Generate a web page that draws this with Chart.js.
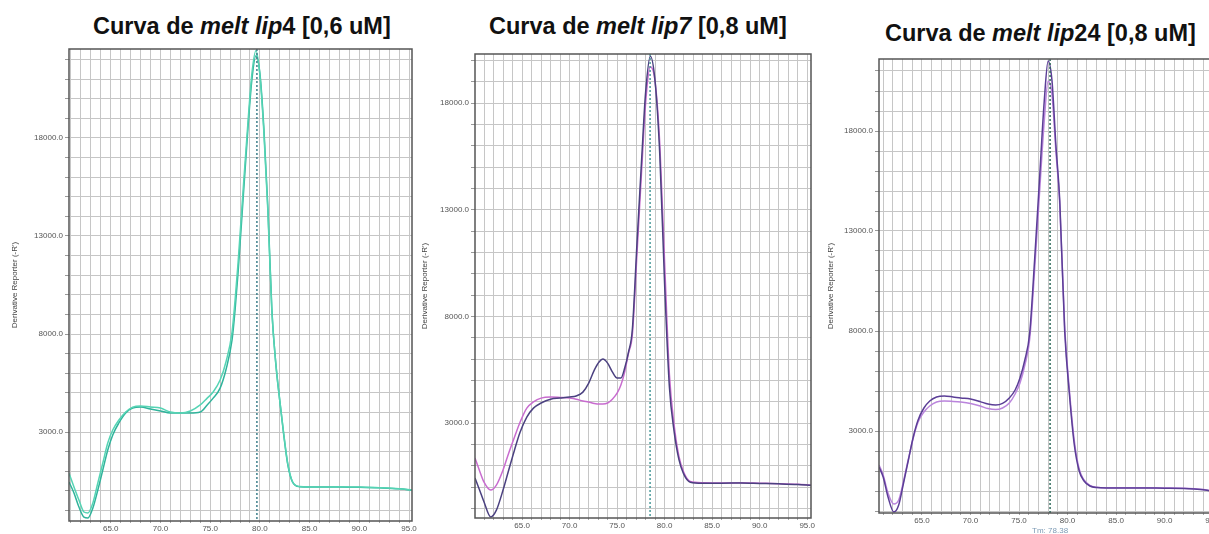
<!DOCTYPE html>
<html>
<head>
<meta charset="utf-8">
<script src="https://cdn.jsdelivr.net/npm/chart.js@4.4.1/dist/chart.umd.min.js"></script>
<style>
body{margin:0;width:1209px;height:534px;overflow:hidden;background:#fff;position:relative;font-family:"Liberation Sans",Arial,sans-serif}
.title{position:absolute;font-weight:bold;font-size:23.5px;line-height:1;white-space:nowrap;color:#111}
canvas{position:absolute;top:40px}
</style>
</head>
<body>
<div class="title" style="left:93px;top:15px">Curva de <i>melt lip</i>4 [0,6 uM]</div>
<div class="title" style="left:489px;top:15px">Curva de <i>melt lip7</i> [0,8 uM]</div>
<div class="title" style="left:885px;top:22px">Curva de <i>melt lip</i>24 [0,8 uM]</div>
<canvas id="c1" width="420" height="494" style="left:0"></canvas>
<canvas id="c2" width="400" height="494" style="left:420px"></canvas>
<canvas id="c3" width="410" height="494" style="left:820px"></canvas>
<script>
'use strict'

// lip4 [0,6 uM]
var xLip4 = [60.8, 61.3, 61.8, 62.3, 62.7, 63.2, 63.7, 64.2, 64.7, 65.2, 65.8, 66.5, 67.2, 68, 69, 70, 71, 72, 73, 74, 74.7, 75.3, 76, 76.6, 77.2, 77.5, 77.8, 78.3, 78.8, 79.2, 79.6, 80, 80.4, 80.8, 81.2, 81.6, 82, 82.4, 82.8, 83.3, 84, 85, 86, 88, 90, 92, 94, 95.3]
var lip4A = [900, 200, -470, -1080, -1130, -620, 400, 1420, 2440, 3100, 3600, 4020, 4270, 4330, 4270, 4220, 4020, 3970, 4070, 4380, 4730, 5040, 5650, 6600, 8100, 9700, 11600, 15240, 18800, 21300, 22450, 21200, 18300, 14300, 9200, 6500, 4600, 2900, 1400, 450, 220, 200, 190, 210, 190, 160, 110, 40]
var lip4B = [450, -110, -830, -1340, -1390, -880, 40, 1060, 2080, 2850, 3450, 3970, 4220, 4270, 4170, 4070, 3970, 3970, 3970, 4020, 4380, 4730, 5240, 6200, 7700, 9200, 11100, 14800, 18500, 21000, 22200, 21300, 18500, 14500, 9300, 6500, 4600, 2850, 1350, 430, 210, 190, 190, 200, 180, 150, 100, 30]

// lip7 [0,8 uM]
var xLip7 = [60.05, 60.5, 61, 61.7, 62.3, 63, 63.6, 64.2, 64.8, 65.5, 66.2, 67, 68, 69, 70, 70.7, 71.4, 72, 72.6, 73.1, 73.5, 74, 74.5, 75, 75.4, 75.8, 76.2, 76.6, 77.1, 77.6, 78, 78.5, 79, 79.5, 80, 80.5, 81, 81.5, 82, 82.7, 84, 86, 88, 90, 92, 94, 95.4]
var lip7Dark = [420, -100, -700, -1400, -1080, -140, 800, 1730, 2580, 3280, 3700, 3940, 4120, 4170, 4220, 4270, 4450, 4860, 5480, 5860, 6000, 5810, 5400, 5110, 5110, 5580, 6330, 7360, 11500, 15500, 18500, 20200, 19000, 15500, 9500, 4700, 2600, 1300, 620, 230, 180, 180, 190, 170, 150, 120, 80]
var lip7Pink = [1360, 800, 230, -140, 90, 800, 1600, 2340, 3050, 3700, 3990, 4170, 4220, 4200, 4170, 4120, 4030, 3990, 3920, 3890, 3890, 3940, 4120, 4400, 4780, 5400, 6280, 7130, 11000, 15000, 18000, 19700, 19000, 16000, 10500, 5300, 2900, 1450, 700, 260, 200, 190, 200, 180, 160, 130, 90]

// lip24 [0,8 uM]
var xLip24 = [60.57, 61, 61.5, 62.1, 62.6, 63.1, 63.6, 64.1, 64.6, 65.2, 65.8, 66.5, 67.3, 68.2, 69, 70, 71, 71.8, 72.6, 73.3, 74, 74.6, 75.1, 75.6, 76.1, 76.6, 77.1, 77.6, 78, 78.4, 78.8, 79.2, 79.7, 80.2, 80.7, 81.2, 81.7, 82.3, 83, 84, 86, 88, 90, 92, 94, 95.3]
var lip24Dark = [1200, 700, -300, -1050, -700, 400, 1550, 2700, 3550, 4150, 4500, 4700, 4750, 4700, 4650, 4600, 4470, 4350, 4300, 4380, 4650, 5050, 5650, 6550, 7900, 11500, 15500, 19500, 21500, 20500, 17300, 14500, 8050, 4800, 2300, 1000, 500, 250, 170, 150, 150, 150, 140, 130, 60, -50]
var lip24Light = [1300, 800, -100, -650, -450, 500, 1600, 2650, 3450, 3950, 4250, 4450, 4500, 4480, 4450, 4380, 4250, 4120, 4070, 4150, 4400, 4850, 5400, 6300, 7600, 11000, 14800, 18500, 20500, 19800, 17000, 14300, 8300, 5000, 2500, 1100, 550, 280, 190, 160, 160, 160, 150, 140, 70, -40]

// dotted Tm line positions and the label under the last panel
var tmValues = [79.7, 78.47, 78.2]
var tmLabel = 'Tm: 78.38'
var yTickLabels = [3000, 8000, 13000, 18000]
var xTickLabels = [65, 70, 75, 80, 85, 90, 95]

var framePlugin = {
    id: 'frame',
    afterDatasetsDraw: function(chart){
        var ctx = chart.ctx
        var area = chart.chartArea
        var o = chart.options.plugins.frame
        var px = chart.scales.x.getPixelForValue(o.tm)
        ctx.save()
        ctx.strokeStyle = o.tmColor
        ctx.lineWidth = 1.5
        ctx.setLineDash([2, 2])
        ctx.beginPath()
        ctx.moveTo(px, area.top)
        ctx.lineTo(px, area.bottom)
        ctx.stroke()
        ctx.setLineDash([])
        ctx.strokeStyle = '#555'
        ctx.lineWidth = 1.5
        ctx.strokeRect(area.left, area.top, area.right - area.left, area.bottom - area.top)
        if(o.tmText){
            ctx.fillStyle = '#7d9bb5'
            ctx.font = '8px "Liberation Sans", Arial'
            ctx.textAlign = 'center'
            ctx.fillText(o.tmText, px, area.bottom + 20)
        }
        ctx.restore()
    }
}

function makeChart(id, xs, series, colors, opts){
    var datasets = []
    for(let i = 0; i < series.length; i++){
        datasets.push({
            data: xs.map(function(x, j){ return {x: x, y: series[i][j]} }),
            borderColor: colors[i],
            borderWidth: 1.5,
            pointRadius: 0,
            cubicInterpolationMode: 'monotone',
            fill: false
        })
    }
    new Chart(document.getElementById(id), {
        type: 'line',
        data: {datasets: datasets},
        options: {
            responsive: false,
            animation: false,
            layout: {padding: {top: opts.top, right: opts.right, left: 0, bottom: 0}},
            plugins: {
                legend: {display: false},
                tooltip: {enabled: false},
                frame: {tm: opts.tm, tmColor: opts.tmColor, tmText: opts.tmText}
            },
            scales: {
                x: {
                    type: 'linear',
                    min: opts.xMin,
                    max: opts.xMax,
                    afterBuildTicks: function(scale){
                        var t = []
                        for(let v = 61; v <= 95; v++) t.push({value: v})
                        scale.ticks = t
                    },
                    afterFit: function(scale){ scale.height = opts.xAxisH },
                    ticks: {
                        autoSkip: false, maxRotation: 0, padding: 1, color: '#555',
                        font: {size: 8, family: '"Liberation Sans", Arial'},
                        callback: function(v){ return xTickLabels.indexOf(v) >= 0 ? v.toFixed(1) : '' }
                    },
                    grid: {color: '#c6c6c6', tickLength: 2, tickColor: '#aaa'},
                    border: {display: false}
                },
                y: {
                    min: opts.yMin,
                    max: opts.yMax,
                    afterBuildTicks: function(scale){
                        var t = []
                        for(let v = Math.ceil(opts.yMin / 1000) * 1000; v <= opts.yMax; v += 1000) t.push({value: v})
                        scale.ticks = t
                    },
                    afterFit: function(scale){ scale.width = opts.yAxisW },
                    ticks: {
                        autoSkip: false, padding: 2, color: '#555',
                        font: {size: 8, family: '"Liberation Sans", Arial'},
                        callback: function(v){ return yTickLabels.indexOf(v) >= 0 ? v.toFixed(1) : '' }
                    },
                    grid: {color: '#c6c6c6', tickLength: 4, tickColor: '#999'},
                    border: {display: false},
                    title: {
                        display: true,
                        text: "Derivative Reporter (-R')",
                        color: '#444',
                        font: {size: 8, family: '"Liberation Sans", Arial'},
                        padding: {top: opts.titlePad, bottom: 0}
                    }
                }
            }
        },
        plugins: [framePlugin]
    })
}

makeChart('c1', xLip4, [lip4A, lip4B], ['#55d4b4', '#30b39b'], {
    xMin: 60.8, xMax: 95.3, yMin: -1540, yMax: 22540,
    top: 9, right: 8, xAxisH: 13, yAxisW: 69, titlePad: 10,
    tm: tmValues[0], tmColor: '#3d7f8a', tmText: ''
})
makeChart('c2', xLip7, [lip7Dark, lip7Pink], ['#4b4180', '#c86ccf'], {
    xMin: 60.05, xMax: 95.4, yMin: -1450, yMax: 20300,
    top: 14, right: 9, xAxisH: 16, yAxisW: 55, titlePad: 0,
    tm: tmValues[1], tmColor: '#4a9a9a', tmText: ''
})
makeChart('c3', xLip24, [lip24Dark, lip24Light], ['#5b3e96', '#ba84dc'], {
    xMin: 60.57, xMax: 95.3, yMin: -1100, yMax: 21600,
    top: 19, right: 14, xAxisH: 21, yAxisW: 59, titlePad: 6,
    tm: tmValues[2], tmColor: '#2d6a5a', tmText: tmLabel
})
</script>
</body>
</html>
